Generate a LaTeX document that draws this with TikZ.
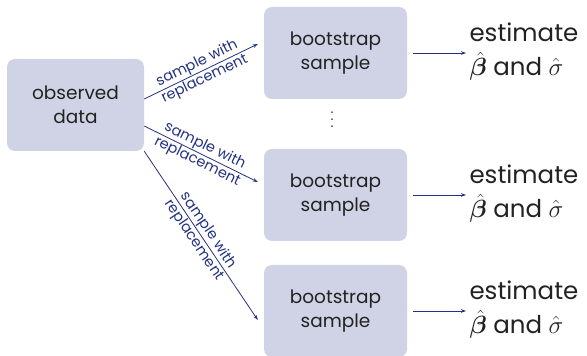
\documentclass[tikz,border=0pt]{standalone}
\usepackage{amsmath}
\usepackage{amssymb}
\usepackage{bm}
\usepackage{fontspec}
\setmainfont{Poppins}
\usetikzlibrary{arrows.meta,calc}
\definecolor{boxfill}{RGB}{208,211,229}
\definecolor{arrowblue}{RGB}{35,50,130}
\definecolor{boxtext}{RGB}{34,34,34}
\tikzset{
  sbox/.style={fill=boxfill,rounded corners=8pt,minimum width=143pt,minimum height=92pt,
    align=center,font=\fontsize{18.5}{24}\selectfont,text=boxtext},
  link/.style={draw=arrowblue,line width=0.8pt,-{Stealth[length=5pt,width=3.5pt]}},
  lbl/.style={sloped,font=\fontsize{14.5}{15}\selectfont,text=arrowblue,inner sep=1pt},
  est/.style={align=left,anchor=west,font=\fontsize{24.5}{34}\selectfont,text=boxtext}
}

\begin{document}
\begin{tikzpicture}[x=1pt,y=1pt]
      \useasboundingbox (0,0) rectangle (587,356);
      \node[sbox,minimum width=137pt] (obs) at (75.5,251) {observed\\data};
      \node[sbox] (boot1) at (335.5,303) {bootstrap\\sample};
      \node[sbox] (boot2) at (335.5,161) {bootstrap\\sample};
      \node[sbox] (boot3) at (335.5,45) {bootstrap\\sample};
      % vertical dots between the first two samples
      \node[text=arrowblue,font=\fontsize{14}{14}\selectfont,inner sep=0pt] (dots) at (332,236)
        {\vbox{\baselineskip7pt\lineskiplimit-10pt\hbox{.}\hbox{.}\hbox{.}}};
      \node[est] (est1) at (466,304) {estimate\\$\hat{\bm{\beta}}$ and $\hat{\sigma}$};
      \node[est] (est2) at (466,162) {estimate\\$\hat{\bm{\beta}}$ and $\hat{\sigma}$};
      \node[est] (est3) at (466,46) {estimate\\$\hat{\bm{\beta}}$ and $\hat{\sigma}$};
      \draw[link] ([yshift=6pt]obs.east) -- node[lbl,above] {sample with}
        node[lbl,below] {replacement} ([xshift=-6pt,yshift=9pt]boot1.west);
      \draw[link] ([yshift=-21pt]obs.east) -- node[lbl,above] {sample with}
        node[lbl,below] {replacement} ([xshift=-6pt,yshift=13pt]boot2.west);
      \draw[link] (obs.south east) -- node[lbl,above] {sample with}
        node[lbl,below] {replacement} ([xshift=-6pt,yshift=-9pt]boot3.west);
      \draw[link] ([xshift=6pt]boot1.east) -- ([yshift=-1pt]est1.west);
      \draw[link] ([xshift=6pt]boot2.east) -- ([yshift=-1pt]est2.west);
      \draw[link] ([xshift=6pt]boot3.east) -- ([yshift=-1pt]est3.west);
\end{tikzpicture}
\end{document}
